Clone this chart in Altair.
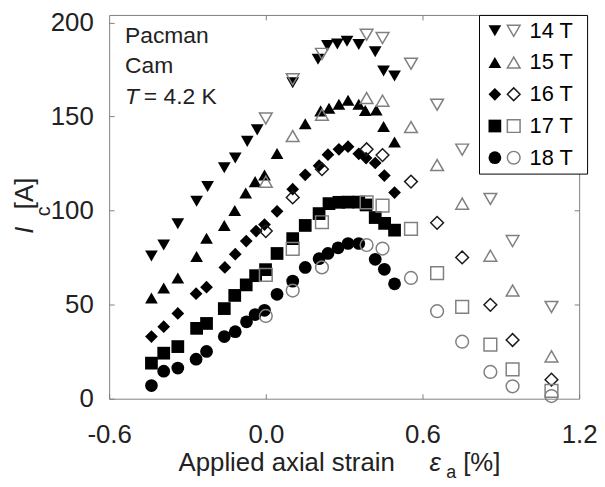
import altair as alt
import pandas as pd

FONT = "Liberation Sans"

series = ["14 T", "15 T", "16 T", "17 T", "18 T"]
shapes = ["triangle-down", "triangle-up", "diamond", "square", "circle"]
open_colors = ["#808080", "#808080", "#1a1a1a", "#808080", "#808080"]

x_ticks = [-0.6, 0.0, 0.6, 1.2]
y_ticks = [0, 50, 100, 150, 200]

# filled symbols
f14_x = [-0.438, -0.391, -0.337, -0.265, -0.223, -0.159, -0.117, -0.071, -0.033, 0.103, 0.200, 0.236, 0.274, 0.311, 0.356, 0.419, 0.451, 0.493]
f14_y = [75.9, 81.7, 93.0, 105.0, 112.8, 122.8, 128.0, 136.8, 142.9, 168.0, 180.4, 187.7, 188.6, 190.0, 188.3, 184.4, 174.2, 171.6]
f15_x = [-0.438, -0.391, -0.337, -0.265, -0.227, -0.159, -0.119, -0.077, -0.041, -0.005, 0.043, 0.151, 0.210, 0.242, 0.280, 0.315, 0.356, 0.381, 0.423, 0.451, 0.493]
f15_y = [53.5, 58.8, 64.2, 75.6, 85.3, 92.1, 100.0, 109.3, 115.4, 118.9, 130.4, 146.2, 153.0, 154.4, 156.5, 158.6, 156.5, 153.2, 153.5, 144.7, 136.5]
f16_x = [-0.438, -0.391, -0.337, -0.267, -0.227, -0.157, -0.117, -0.075, -0.037, -0.005, 0.043, 0.103, 0.151, 0.204, 0.238, 0.280, 0.315, 0.356, 0.384, 0.419, 0.454, 0.493]
f16_y = [33.0, 38.3, 45.3, 55.8, 59.3, 69.8, 76.8, 83.8, 89.1, 92.6, 99.6, 111.4, 119.0, 123.9, 129.7, 132.6, 134.0, 130.2, 127.9, 125.3, 118.6, 109.6]
f17_x = [-0.438, -0.391, -0.337, -0.265, -0.227, -0.159, -0.119, -0.075, -0.039, -0.001, 0.043, 0.103, 0.151, 0.204, 0.242, 0.280, 0.315, 0.356, 0.384, 0.419, 0.455, 0.493]
f17_y = [18.9, 24.2, 27.7, 37.4, 40.0, 47.9, 54.9, 60.5, 65.4, 68.6, 77.2, 85.1, 92.1, 98.4, 103.7, 104.4, 104.5, 104.5, 103.0, 96.3, 93.2, 89.6]
f18_x = [-0.438, -0.391, -0.337, -0.267, -0.227, -0.159, -0.117, -0.074, -0.041, -0.005, 0.043, 0.103, 0.151, 0.204, 0.238, 0.277, 0.315, 0.356, 0.419, 0.454, 0.493]
f18_y = [7.0, 14.6, 16.3, 21.0, 25.1, 33.0, 35.6, 40.9, 44.7, 47.0, 55.5, 62.5, 69.8, 74.4, 77.2, 80.2, 82.5, 82.5, 74.1, 68.8, 61.1]

# open symbols
o_x = [0.0, 0.103, 0.215, 0.386, 0.447, 0.556, 0.656, 0.752, 0.860, 0.945, 1.094]
o14_y = [149.0, 169.8, 183.3, 193.5, 191.7, 178.1, 156.3, 132.4, 106.2, 83.8, 48.8]
o15_y = [115.4, 139.6, 151.0, 159.8, 158.4, 144.4, 124.2, 103.7, 76.0, 57.5, 22.5]
o16_y = [89.1, 107.0, 122.0, 132.6, 129.5, 115.4, 93.5, 75.1, 49.9, 31.2, 10.1]
o17_y = [65.8, 79.6, 93.8, 104.4, 102.6, 90.3, 66.8, 48.8, 28.8, 15.6, 4.1]
o18_y = [44.0, 57.5, 69.8, 81.7, 79.8, 64.2, 46.5, 30.3, 14.2, 6.6, 1.4]

filled_sets = [(f14_x, f14_y), (f15_x, f15_y), (f16_x, f16_y), (f17_x, f17_y), (f18_x, f18_y)]
open_sets = [o14_y, o15_y, o16_y, o17_y, o18_y]

rows_f = []
for s, (xs, ys) in zip(series, filled_sets):
    rows_f += [{"series": s, "x": a, "y": b} for a, b in zip(xs, ys)]
rows_o = []
for s, ys in zip(series, open_sets):
    rows_o += [{"series": s, "x": a, "y": b} for a, b in zip(o_x, ys)]
df_f = pd.DataFrame(rows_f)
df_o = pd.DataFrame(rows_o)

MSIZE = 165

xscale = alt.Scale(domain=[-0.6, 1.2], nice=False, zero=False)
yscale = alt.Scale(domain=[0, 204], nice=False, zero=False)

axis_common = dict(offset=-5, tickSize=5, domain=False, grid=False, tickColor="#808080",
                   labelColor="#222222", labelFontSize=26, labelFont=FONT, title=None)

bottom_axis = alt.Axis(orient="bottom", values=x_ticks, labelPadding=23,
                       labelExpr="datum.value < 0 ? '-' + format(-datum.value, '.1f') : format(datum.value, '.1f')",
                       labelFlush=False, labelOverlap=False, **axis_common)
left_axis = alt.Axis(orient="left", values=y_ticks, labelPadding=16, labelFlush=False,
                     labelOverlap=False, **axis_common)
top_axis = alt.Axis(orient="top", values=[0.0, 0.6], labels=False, **axis_common)
right_axis = alt.Axis(orient="right", values=[50, 100, 150, 200], labels=False, **axis_common)

filled_legend = alt.Legend(title=None, orient="none", legendX=373, legendY=0, padding=5,
                           strokeColor="black", fillColor="white", symbolSize=MSIZE,
                           symbolFillColor="black", symbolStrokeColor="black", symbolStrokeWidth=0,
                           labelFontSize=22, labelFont=FONT, labelExpr="''",
                           labelOffset=77, rowPadding=10)
open_legend = alt.Legend(title=None, orient="none", legendX=397, legendY=5, padding=0,
                         symbolSize=MSIZE, symbolFillColor="transparent", symbolStrokeWidth=1.5,
                         labelFontSize=22, labelFont=FONT, labelColor="black",
                         labelOffset=5, rowPadding=10)

shape_scale_f = alt.Scale(domain=series, range=shapes)
shape_scale_o = alt.Scale(domain=series, range=shapes)

filled = alt.Chart(df_f).mark_point(filled=True, color="black", size=MSIZE, opacity=1, strokeWidth=0).encode(
    x=alt.X("x:Q", scale=xscale, axis=bottom_axis),
    y=alt.Y("y:Q", scale=yscale, axis=left_axis),
    shape=alt.Shape("series:N", scale=shape_scale_f, legend=filled_legend),
)

opened = alt.Chart(df_o).mark_point(filled=False, size=MSIZE, opacity=1, strokeWidth=1.5, fill="transparent").encode(
    x=alt.X("x:Q", scale=xscale, axis=top_axis),
    y=alt.Y("y:Q", scale=yscale, axis=right_axis),
    shape=alt.Shape("series:N", scale=shape_scale_o, legend=open_legend),
    stroke=alt.Stroke("series:N", scale=alt.Scale(domain=series, range=open_colors), legend=open_legend),
)


def label(text, x, y, size=26, style="normal", angle=0, align="left", baseline="alphabetic"):
    kw = dict(fontSize=size, fontStyle=style, align=align, baseline=baseline, font=FONT, color="#222222")
    if angle:
        kw["angle"] = angle
    return alt.Chart(pd.DataFrame({"t": [text]})).mark_text(**kw).encode(
        text="t:N", x=alt.value(x), y=alt.value(y))


texts = [
    label("Pacman", 16, 28.7, 23),
    label("Cam", 16, 58.7, 23),
    label("T", 16, 90.3, 23, "italic"),
    label("= 4.2 K", 35, 90.3, 23),
    # y title
    label("I", -77, 217, 26, "italic", 270, "center"),
    label("c", -60, 198, 20, "normal", 270, "center"),
    label("[A]", -77, 180, 26, "normal", 270, "center"),
    # x title
    label("Applied axial strain", 70, 460, 26),
    label("ε", 323, 460, 26, "italic"),
    label("a", 340, 467, 18),
    label("[%]", 357, 460, 26),
]

chart = alt.layer(filled, opened, *texts).resolve_scale(
    shape="independent", stroke="independent"
).resolve_axis(
    x="independent", y="independent"
).resolve_legend(
    shape="independent", stroke="independent"
).properties(
    width=474, height=387,
    padding={"left": 102, "top": 5, "right": 18, "bottom": 82},
    autosize=alt.AutoSizeParams(type="none"),
).configure(font=FONT).configure_view(stroke="#808080", strokeWidth=1)

chart.save("out.html", embed_options={"renderer": "svg", "actions": False})
